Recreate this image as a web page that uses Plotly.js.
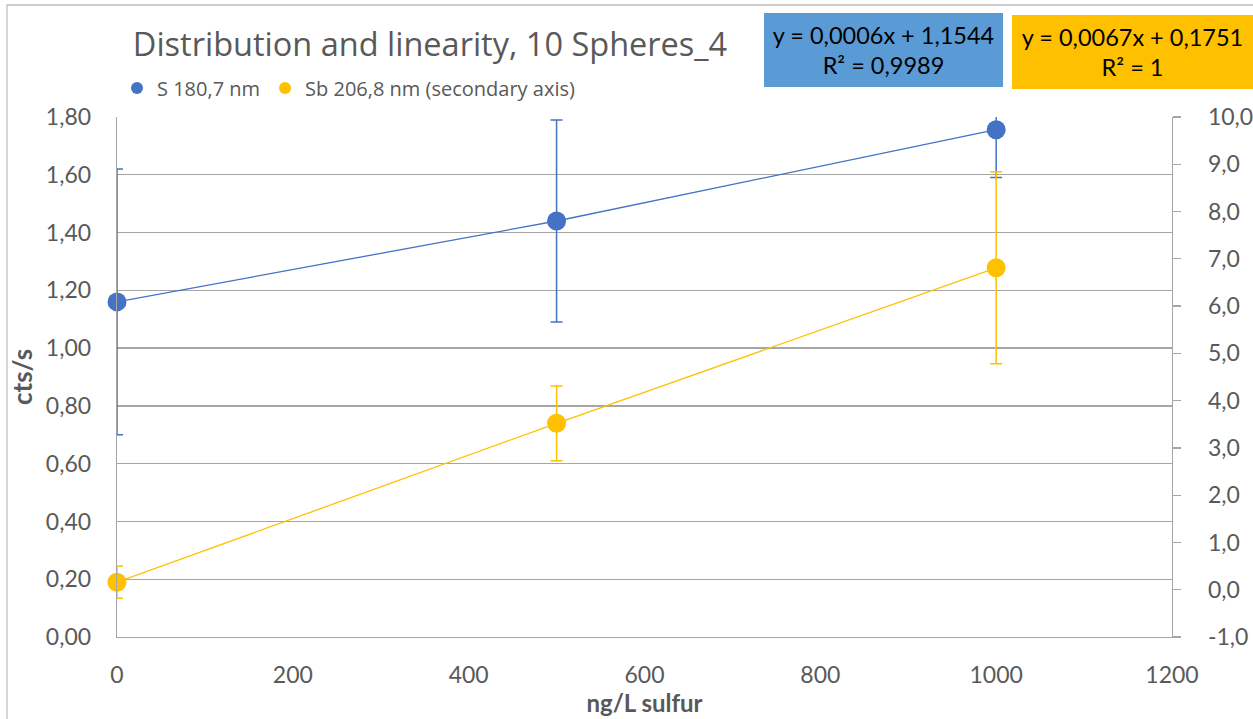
<!DOCTYPE html>
<html>
<head>
<meta charset="utf-8">
<script src="https://cdn.plot.ly/plotly-3.0.1.min.js"></script>
<style>
  html, body { margin: 0; padding: 0; background: #ffffff; }
  #chart { width: 1253px; height: 719px; }
</style>
</head>
<body>
<div id="chart"></div>
<script>
// ---- data ----
const concentration = [0, 500, 1000];           // ng/L sulfur
const sValues  = [1.16, 1.44, 1.756];           // S 180,7 nm (cts/s, primary axis)
const sErrors  = [0.46, 0.35, 0.165];
const sbValues = [0.16, 3.52, 6.81];            // Sb 206,8 nm (secondary axis)
const sbErrors = [0.34, 0.79, 2.03];

const seriesNames = ['S 180,7 nm', 'Sb 206,8 nm (secondary axis)'];
const y2TickVals = [-1, 0, 1, 2, 3, 4, 5, 6, 7, 8, 9, 10];
const y2TickText = ['-1,0', '0,0', '1,0', '2,0', '3,0', '4,0', '5,0', '6,0', '7,0', '8,0', '9,0', '10,0'];
const trendTexts = ['y = 0,0006x + 1,1544<br>R² = 0,9989', 'y = 0,0067x + 0,1751<br>R² = 1'];

const BLUE = '#4472C4';
const GOLD = '#FFC000';
const FONT = 'Lato, "Open Sans", sans-serif';
const FONT2 = '"Open Sans", Lato, sans-serif';
const GREY_TXT = '#595959';
const GRID = '#A6A6A6';

const traces = [
  { x: concentration, y: sValues, mode: 'lines', showlegend: false, hoverinfo: 'skip',
    line: { color: BLUE, width: 1.3 }, yaxis: 'y' },
  { x: concentration, y: sValues, mode: 'markers', name: seriesNames[0], cliponaxis: false,
    marker: { color: BLUE, size: 19 }, yaxis: 'y',
    error_y: { type: 'data', array: sErrors, symmetric: true, color: BLUE, thickness: 1.5, width: 6 } },
  { x: concentration, y: sbValues, mode: 'lines', showlegend: false, hoverinfo: 'skip',
    line: { color: GOLD, width: 1.3 }, yaxis: 'y2' },
  { x: concentration, y: sbValues, mode: 'markers', name: seriesNames[1], cliponaxis: false,
    marker: { color: GOLD, size: 19 }, yaxis: 'y2',
    error_y: { type: 'data', array: sbErrors, symmetric: true, color: GOLD, thickness: 1.5, width: 6 } }
];

const layout = {
  width: 1253, height: 719,
  margin: { l: 117, r: 81, t: 117, b: 82, pad: 0 },
  paper_bgcolor: '#ffffff', plot_bgcolor: '#ffffff',
  separators: ', ',
  font: { family: FONT, color: GREY_TXT, size: 23 },
  title: { text: 'Distribution and linearity, 10 Spheres_4',
    font: { family: FONT2, size: 32.5, color: GREY_TXT },
    xref: 'container', x: 430 / 1253, xanchor: 'center',
    yref: 'container', y: 1 - 45 / 719, yanchor: 'middle' },
  showlegend: true,
  legend: { orientation: 'h', x: 0.0, xanchor: 'left', y: (637 - 88) / 520, yanchor: 'middle',
    font: { family: FONT2, size: 20, color: GREY_TXT }, itemsizing: 'constant',
    bgcolor: 'rgba(0,0,0,0)', traceorder: 'normal', itemwidth: 30 },
  xaxis: { range: [0, 1200], dtick: 200, tick0: 0, showgrid: false, zeroline: false,
    showline: true, linecolor: GRID, linewidth: 1.3, ticks: '', ticklabelstandoff: 17,
    tickfont: { family: FONT, size: 23, color: GREY_TXT },
    title: { text: '<b>ng/L sulfur</b>', font: { family: FONT, size: 24, color: GREY_TXT }, standoff: 6 } },
  yaxis: { range: [0, 1.8], dtick: 0.2, tick0: 0, tickformat: '.2f', showgrid: true,
    gridcolor: GRID, gridwidth: 1.3, zeroline: false, showline: true, linecolor: GRID, linewidth: 1.3,
    ticks: '', ticklabelstandoff: 20,
    tickfont: { family: FONT, size: 23, color: GREY_TXT },
    title: { text: '<b>cts/s</b>', font: { family: FONT, size: 26, color: GREY_TXT }, standoff: 5 } },
  yaxis2: { overlaying: 'y', side: 'right', range: [-1, 10], tickvals: y2TickVals, ticktext: y2TickText,
    showgrid: false, zeroline: false, showline: true, linecolor: GRID, linewidth: 1.3,
    ticks: 'outside', ticklen: 8, tickcolor: GRID, tickwidth: 1.3, ticklabelstandoff: 22,
    tickfont: { family: FONT, size: 23, color: GREY_TXT } },
  shapes: [
    { type: 'rect', xref: 'paper', yref: 'paper',
      x0: (7 - 117) / 1055, x1: (1300 - 117) / 1055, y0: (637 - 760) / 520, y1: (637 - 5) / 520,
      line: { color: '#BFBFBF', width: 1.3 }, fillcolor: 'rgba(0,0,0,0)', layer: 'below' }
  ],
  annotations: [
    { xref: 'paper', yref: 'paper', x: (764 - 117) / 1055, y: (637 - 13) / 520,
      xanchor: 'left', yanchor: 'top', width: 239, height: 74, align: 'center', valign: 'middle',
      text: trendTexts[0], showarrow: false, bgcolor: '#5B9BD5', borderpad: 0, borderwidth: 0,
      font: { family: FONT, size: 23.5, color: '#000000' } },
    { xref: 'paper', yref: 'paper', x: (1012 - 117) / 1055, y: (637 - 15) / 520,
      xanchor: 'left', yanchor: 'top', width: 241, height: 74, align: 'center', valign: 'middle',
      text: trendTexts[1], showarrow: false, bgcolor: GOLD, borderpad: 0, borderwidth: 0,
      font: { family: FONT, size: 23.5, color: '#000000' } }
  ]
};

Plotly.newPlot('chart', traces, layout, { displayModeBar: false, staticPlot: true });
</script>
</body>
</html>
